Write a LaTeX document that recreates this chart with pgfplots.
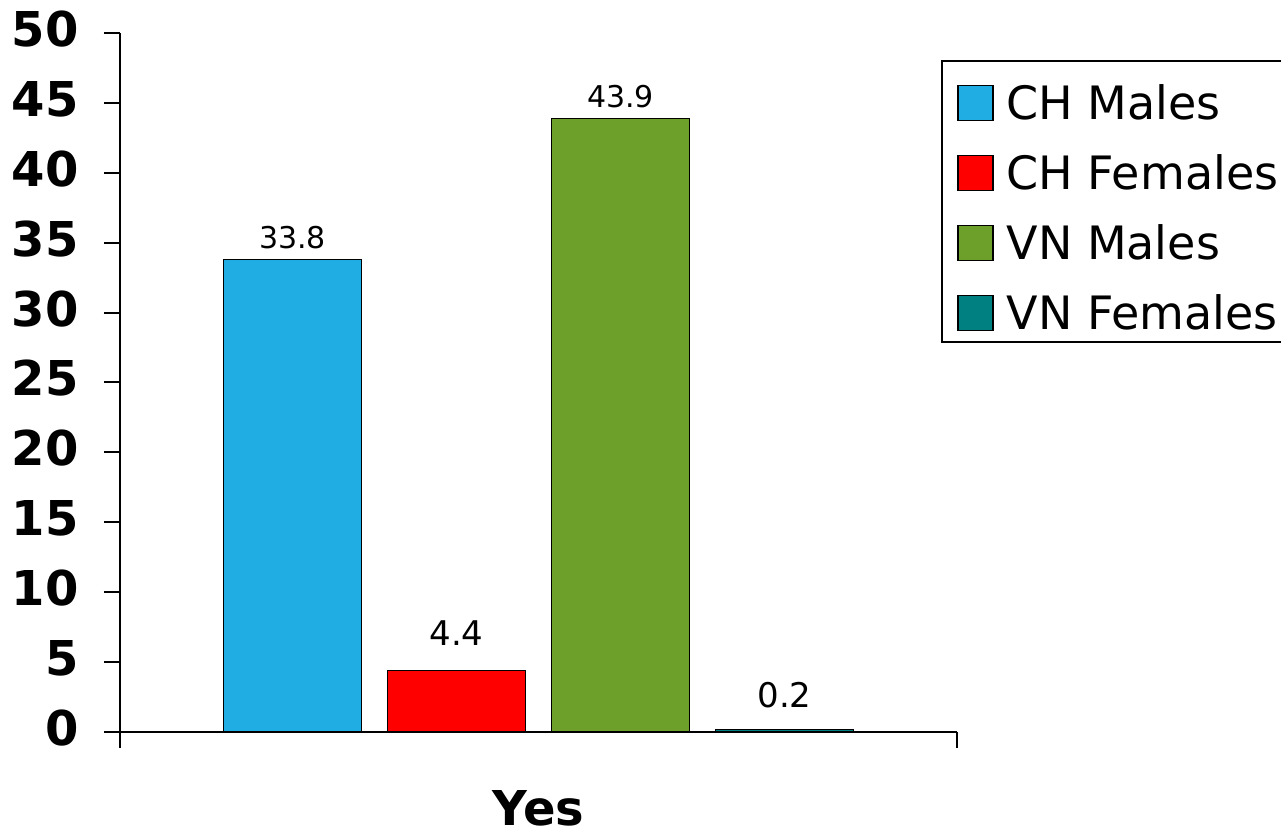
\documentclass[border=0pt]{standalone}
\usepackage{pgfplots}
\pgfplotsset{compat=1.18}
\usepackage{fontspec}
\setmainfont{DejaVu Sans}
\definecolor{chblue}{RGB}{31,173,228}
\definecolor{chred}{RGB}{255,0,0}
\definecolor{vngreen}{RGB}{108,160,42}
\definecolor{vnteal}{RGB}{0,128,128}
\begin{document}
\begin{tikzpicture}
\begin{axis}[
  scale only axis, width=418.5pt, height=349.5pt,
  ymin=0, ymax=50, ytick={0,5,...,50},
  xmin=-1, xmax=1, xtick={-1,1}, xticklabels={{},{}},
  axis x line=bottom, axis y line=left,
  axis line style={-, line width=1pt, black},
  tick align=outside, major tick length=8pt,
  tick style={line width=1pt, black},
  ytick pos=left, xtick pos=bottom,
  clip=false,
  /pgf/number format/assume math mode=true,
  yticklabel style={font=\fontsize{24}{24}\selectfont\bfseries, anchor=east, inner sep=0pt, xshift=-12.5pt, yshift=2pt},
  xlabel={Yes},
  xlabel style={font=\fontsize{24}{24}\selectfont\bfseries, at={(axis description cs:0.5,0)}, anchor=center, yshift=-38pt},
  ybar=13pt, bar width=69pt,
  legend style={at={(0.982,0.9306)}, anchor=north west, draw=none, fill=none,
    font=\fontsize{23}{23}\selectfont, legend cell align=left, row sep=14.25pt,
    inner xsep=7.5pt, inner ysep=0pt,
    nodes={inner sep=2pt, text height=16.8pt, text depth=0pt}},
  legend image code/.code={\draw[#1, line width=0.6pt] (0pt,-8.75pt) rectangle (17.5pt,8.75pt); \path (22pt,0pt);},
]
\addplot[draw=black, line width=0.7pt, fill=chblue, nodes near coords,
  every node near coord/.append style={font=\fontsize{15}{15}\selectfont, inner sep=0pt, yshift=5pt, black}]
  coordinates {(0,33.8)};
\addplot[draw=black, line width=0.7pt, fill=chred, nodes near coords,
  every node near coord/.append style={font=\fontsize{17}{17}\selectfont, inner sep=0pt, yshift=12pt, black}]
  coordinates {(0,4.4)};
\addplot[draw=black, line width=0.7pt, fill=vngreen, nodes near coords,
  every node near coord/.append style={font=\fontsize{15}{15}\selectfont, inner sep=0pt, yshift=5pt, black}]
  coordinates {(0,43.9)};
\addplot[draw=black, line width=0.7pt, fill=vnteal, nodes near coords,
  every node near coord/.append style={font=\fontsize{17}{17}\selectfont, inner sep=0pt, yshift=10.5pt, black}]
  coordinates {(0,0.2)};
\legend{CH Males, CH Females, VN Males, VN Females}
\draw[black, line width=0.8pt] (rel axis cs:0.982,0.96) rectangle (rel axis cs:1.40,0.558);
\end{axis}
\pgfresetboundingbox
\useasboundingbox (-60pt,-51.5pt) rectangle (580.5pt,366pt);
\end{tikzpicture}
\end{document}
